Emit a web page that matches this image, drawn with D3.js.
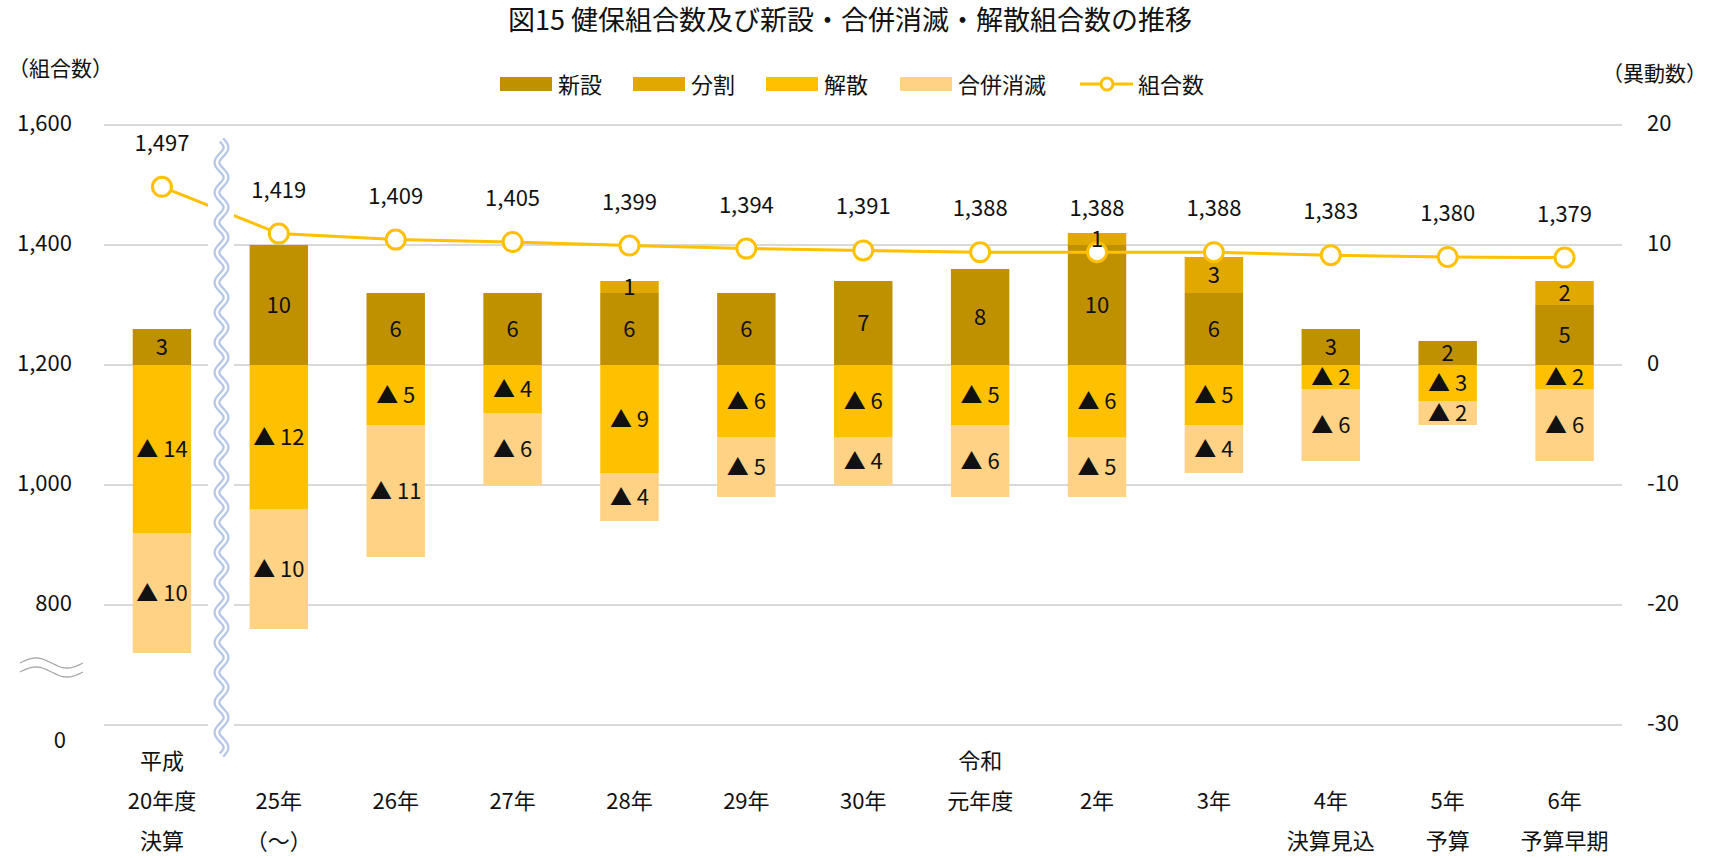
<!DOCTYPE html>
<html><head><meta charset="utf-8">
<script src="https://cdn.jsdelivr.net/npm/d3@7"></script>
<style>
body{margin:0;background:#fff;}
text{font-family:"Noto Sans CJK JP","Noto Sans",sans-serif;fill:#111;}
</style>
</head><body><svg id="chart" width="1713" height="858"></svg>
<script>
// ---- data ----
const categories = ["H20","H25","H26","H27","H28","H29","H30","R1","R2","R3","R4","R5","R6"];
const labelRow1 = ["平成","","","","","","","令和","","","","",""];
const labelRow2 = ["20年度","25年","26年","27年","28年","29年","30年","元年度","2年","3年","4年","5年","6年"];
const labelRow3 = ["決算","（～）","","","","","","","","","決算見込","予算","予算早期"];
const shinsetsu = [3,10,6,6,6,6,7,8,10,6,3,2,5];          // 新設
const bunkatsu  = [0,0,0,0,1,0,0,0,1,3,0,0,2];            // 分割
const kaisan    = [-14,-12,-5,-4,-9,-6,-6,-5,-6,-5,-2,-3,-2]; // 解散
const gappei    = [-10,-10,-11,-6,-4,-5,-4,-6,-5,-4,-6,-2,-6]; // 合併消滅
const kumiaisu  = [1497,1419,1409,1405,1399,1394,1391,1388,1388,1388,1383,1380,1379]; // 組合数
const leftTicks = [1600,1400,1200,1000,800];
const leftBreakLabel = "0";
const rightTicks = [20,10,0,-10,-20,-30];
const seriesNames = ["新設","分割","解散","合併消滅"];
const seriesColors = ["#BF9000","#E0A800","#FFC000","#FFD286"];
const lineName = "組合数";
const lineColor = "#FFC000";

// ---- build ----
const svg = d3.select("#chart");
const table = categories.map((c,i)=>({cat:c,"新設":shinsetsu[i],"分割":bunkatsu[i],"解散":kaisan[i],"合併消滅":gappei[i]}));

const x = d3.scaleBand().domain(categories).range([103.5,1623]).paddingInner(0.5).paddingOuter(0.25);
const yR = d3.scaleLinear().domain([-30,20]).range([725,125]);
const yL = d3.scaleLinear().domain([800,1600]).range([605,125]);

// title
svg.append("text").attr("x",850).attr("y",30).attr("text-anchor","middle")
  .style("font-size","27px")
  .text("図15 健保組合数及び新設・合併消滅・解散組合数の推移");

// axis titles
svg.append("text").attr("x",16).attr("y",67).attr("dominant-baseline","central").style("font-size","21px").text("（組合数）").attr("dx",-8);
svg.append("text").attr("x",1699).attr("y",72).attr("text-anchor","end").attr("dominant-baseline","central").style("font-size","21px").text("（異動数）").attr("dx",8);

// gridlines
svg.append("g").selectAll("line").data(rightTicks).join("line")
  .attr("x1",104).attr("x2",1622).attr("y1",d=>yR(d)).attr("y2",d=>yR(d))
  .attr("stroke","#d9d9d9").attr("stroke-width",2);

// right axis labels
svg.append("g").selectAll("text").data(rightTicks).join("text")
  .attr("x",1647).attr("y",d=>yR(d)-4).attr("dominant-baseline","central")
  .style("font-size","22px").text(d=>String(d));

// left axis labels
svg.append("g").selectAll("text").data(leftTicks).join("text")
  .attr("x",72).attr("y",d=>yL(d)-4).attr("text-anchor","end").attr("dominant-baseline","central")
  .style("font-size","22px").text(d=>d3.format(",")(d));
svg.append("text").attr("x",66).attr("y",738).attr("text-anchor","end").attr("dominant-baseline","central")
  .style("font-size","22px").text(leftBreakLabel);

// left axis break symbol
const hw = d3.range(0,64,1).map(t=>[20+t, 5*Math.sin(t/63*2*Math.PI)]);
[663,672].forEach(cy=>{
  const p = d3.line().x(d=>d[0]).y(d=>cy-d[1])(hw);
  svg.append("path").attr("d",p).attr("fill","none").attr("stroke","#a6a6a6").attr("stroke-width",1.3);
});

// stacked bars
const stack = d3.stack().keys(seriesNames).offset(d3.stackOffsetDiverging)(table);
const gBars = svg.append("g");
stack.forEach((s,si)=>{
  gBars.append("g").attr("fill",seriesColors[si]).selectAll("rect").data(s).join("rect")
    .attr("x",d=>x(d.data.cat)).attr("width",x.bandwidth())
    .attr("y",d=>yR(Math.max(d[0],d[1]))).attr("height",d=>Math.abs(yR(d[0])-yR(d[1])));
});

// line
const lineData = categories.map((c,i)=>({cat:c,v:kumiaisu[i]}));
svg.append("path").datum(lineData)
  .attr("d",d3.line().x(d=>x(d.cat)+x.bandwidth()/2).y(d=>yL(d.v)))
  .attr("fill","none").attr("stroke",lineColor).attr("stroke-width",3);

// vertical break overlay
svg.append("rect").attr("x",208).attr("y",140).attr("width",26).attr("height",615).attr("fill","#fff");
const vw = d3.range(140,756,1).map(yy=>[221.5+4.5*Math.sin((yy-140)/30*2*Math.PI), yy]);
const vp = d3.line()(vw);
svg.append("path").attr("d",vp).attr("fill","none").attr("stroke","#b4c7e7").attr("stroke-width",7);
svg.append("path").attr("d",vp).attr("fill","none").attr("stroke","#fff").attr("stroke-width",2.5);

// markers
svg.append("g").selectAll("circle").data(lineData).join("circle")
  .attr("cx",d=>x(d.cat)+x.bandwidth()/2).attr("cy",d=>yL(d.v)).attr("r",9.5)
  .attr("fill","#fff").attr("stroke",lineColor).attr("stroke-width",3);

// bar labels
const gLab = svg.append("g");
stack.forEach((s,si)=>{
  gLab.append("g").selectAll("text").data(s.filter(d=>d[1]-d[0]!==0)).join("text")
    .attr("x",d=>x(d.data.cat)+x.bandwidth()/2).attr("y",d=>yR((d[0]+d[1])/2)-2)
    .attr("text-anchor","middle").attr("dominant-baseline","central").style("font-size","22px")
    .text(d=>{const raw=d.data[s.key]; return raw>0?String(raw):"▲ "+(-raw);});
});

// line labels
svg.append("g").selectAll("text").data(lineData).join("text")
  .attr("x",d=>x(d.cat)+x.bandwidth()/2).attr("y",d=>yL(d.v)-46)
  .attr("text-anchor","middle").attr("dominant-baseline","central").style("font-size","22px")
  .text(d=>d3.format(",")(d.v));

// x labels
const rows = [[labelRow1,759],[labelRow2,799],[labelRow3,839]];
rows.forEach(([arr,yy])=>{
  svg.append("g").selectAll("text").data(categories.map((c,i)=>({c,t:arr[i]})).filter(d=>d.t)).join("text")
    .attr("x",d=>x(d.c)+x.bandwidth()/2).attr("y",yy)
    .attr("text-anchor","middle").attr("dominant-baseline","central").style("font-size","22px")
    .text(d=>d.t);
});

// legend
const legY = 84;
const legX = [500,633,766,900];
seriesNames.forEach((n,i)=>{
  svg.append("rect").attr("x",legX[i]).attr("y",legY-7).attr("width",52).attr("height",14).attr("fill",seriesColors[i]);
  svg.append("text").attr("x",legX[i]+58).attr("y",legY-1).attr("dominant-baseline","central").style("font-size","22px").text(n);
});
svg.append("line").attr("x1",1080).attr("x2",1133).attr("y1",legY).attr("y2",legY).attr("stroke",lineColor).attr("stroke-width",3);
svg.append("circle").attr("cx",1107).attr("cy",legY).attr("r",6).attr("fill","#fff").attr("stroke",lineColor).attr("stroke-width",3);
svg.append("text").attr("x",1138).attr("y",legY-1).attr("dominant-baseline","central").style("font-size","22px").text(lineName);
</script>
</body></html>
